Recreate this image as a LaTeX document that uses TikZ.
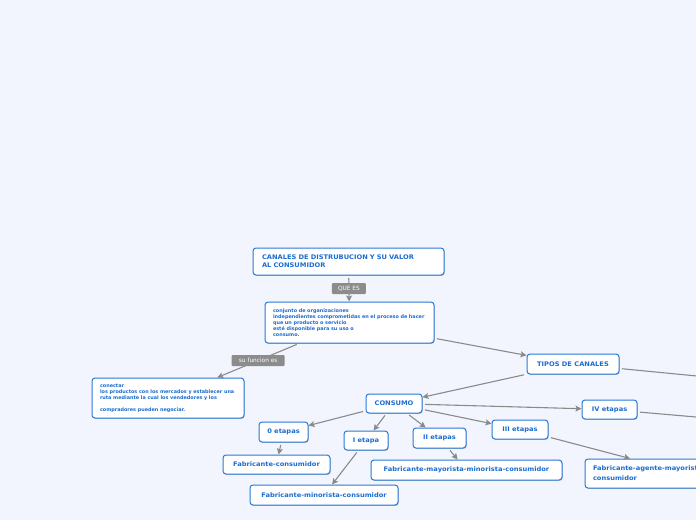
\documentclass[tikz,border=0pt]{standalone}
\usepackage{fontspec}
\usetikzlibrary{arrows.meta,shadows}
\newfontfamily\vf{DejaVu Sans}
\newfontfamily\vfw{DejaVu Sans}[FakeStretch=1.06]
\definecolor{bgc}{HTML}{F2F5FD}
\definecolor{nodeblue}{HTML}{2A7AD8}
\definecolor{txtblue}{HTML}{1B6CD0}
\definecolor{lnc}{HTML}{8A8A8A}
\definecolor{lblc}{HTML}{8C8C8C}
\tikzset{
  box/.style={draw=nodeblue, line width=1pt, rounded corners=3pt, fill=white,
    text=txtblue, font=\vfw\bfseries\fontsize{6.3}{8}\selectfont, inner sep=0pt,
    drop shadow={shadow xshift=0.7pt, shadow yshift=-0.9pt, fill=black, opacity=0.22}},
  small/.style={font=\vf\bfseries\fontsize{4.9}{6.1}\selectfont},
  lbl/.style={fill=lblc, text=white, rounded corners=1pt, inner sep=0pt,
    font=\vf\fontsize{5.8}{6.5}\selectfont},
  conn/.style={draw=lnc, line width=1.1pt, shorten <=2.5pt,
    -{Stealth[length=6pt,width=6pt,inset=1.2pt]}}
}
\begin{document}
\begin{tikzpicture}[x=1pt,y=-1pt]
\useasboundingbox (0,0) rectangle (696,520);
\fill[bgc] (0,0) rectangle (696,520);
\clip (0,0) rectangle (696,520);

\node[box, minimum width=191pt, minimum height=27pt, text width=173pt, align=left] (title) at (348.5,261.5)
  {CANALES DE DISTRUBUCION Y SU VALOR\\AL CONSUMIDOR};
\node[box, small, minimum width=169pt, minimum height=41pt, text width=153pt, align=left] (def) at (349.5,322.5)
  {conjunto de organizaciones\\independientes comprometidas en el proceso de hacer\\que un producto o servicio\\esté disponible para su uso o\\consumo.};
\node[box, small, minimum width=152pt, minimum height=40pt, text width=136pt, align=left] (cnt) at (168,398)
  {conectar\\los productos con los mercados y establecer una\\ruta mediante la cual los vendedores y los\\[5.8pt]compradores pueden negociar.};
\node[box, minimum width=92pt, minimum height=20pt] (tipos) at (573,364) {TIPOS DE CANALES};
\node[box, minimum width=56pt, minimum height=19pt] (consumo) at (394,403.5) {CONSUMO};
\node[box, minimum width=55pt, minimum height=19pt] (iv) at (609.5,409.5) {IV etapas};
\node[box, minimum width=56pt, minimum height=19pt] (iii) at (520,429.5) {III etapas};
\node[box, minimum width=53pt, minimum height=20pt] (ii) at (439.5,438) {II etapas};
\node[box, minimum width=44pt, minimum height=19pt] (i) at (366,440.5) {I etapa};
\node[box, minimum width=49pt, minimum height=20pt] (zero) at (283.5,432) {0 etapas};
\node[box, minimum width=107pt, minimum height=19pt] (fc) at (276.5,464.5) {Fabricante-consumidor};
\node[box, minimum width=148pt, minimum height=20pt] (fmc) at (324,495) {Fabricante-minorista-consumidor};
\node[box, minimum width=191pt, minimum height=20pt] (fmmc) at (466.5,470) {Fabricante-mayorista-minorista-consumidor};
\node[box, minimum width=204pt, minimum height=29pt, text width=188pt, align=left,
  font=\vfw\bfseries\fontsize{6.3}{10}\selectfont] (fammc) at (687,473.5)
  {Fabricante-agente-mayorista-minorista-\\consumidor};

\coordinate (offa) at (800,386);
\coordinate (offb) at (800,426);

\draw[conn] (title) -- node[lbl, minimum width=34pt, minimum height=11pt] (quees) {QUE ES} (def);
\draw[conn] (def) -- node[lbl, minimum width=53pt, minimum height=11pt] (sufun) {su funcion es} (cnt);
\draw[conn] (def) -- (tipos);
\draw[conn] (tipos) -- (offa);
\draw[conn] (tipos) -- (consumo);
\draw[conn] (consumo) -- (iv);
\draw[conn] (iv) -- (offb);
\draw[conn] (consumo) -- (iii);
\draw[conn] (consumo) -- (ii);
\draw[conn] (consumo) -- (i);
\draw[conn] (consumo) -- (zero);
\draw[conn] (zero) -- (fc);
\draw[conn] (i) -- (fmc);
\draw[conn] (ii) -- (fmmc);
\draw[conn] (iii) -- (fammc);
\end{tikzpicture}
\end{document}
